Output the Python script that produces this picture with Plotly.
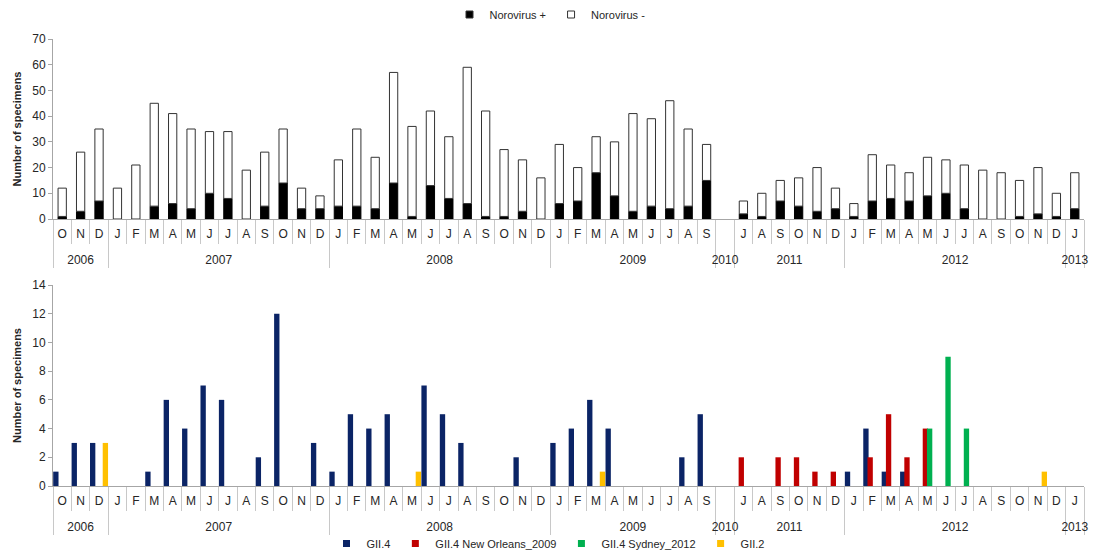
import plotly.graph_objects as go

# ---- categories ----
years = (["2006"] * 3 + ["2007"] * 12 + ["2008"] * 12 + ["2009"] * 9 + ["2010"]
         + ["2011"] * 6 + ["2012"] * 12 + ["2013"])
months = (["O", "N", "D"]
          + ["J", "F", "M", "A", "M", "J", "J", "A", "S", "O", "N", "D"]
          + ["J", "F", "M", "A", "M", "J", "J", "A", "S", "O", "N", "D"]
          + ["J", "F", "M", "A", "M", "J", "J", "A", "S"]
          + [" "]
          + ["J", "A", "S", "O", "N", "D"]
          + ["J", "F", "M", "A", "M", "J", "J", "A", "S", "O", "N", "D"]
          + ["J"])

# ---- top panel: total specimens and norovirus positives (2010 slot empty) ----
total = [12, 26, 35,
         12, 21, 45, 41, 35, 34, 34, 19, 26, 35, 12, 9,
         23, 35, 24, 57, 36, 42, 32, 59, 42, 27, 23, 16,
         29, 20, 32, 30, 41, 39, 46, 35, 29,
         None,
         7, 10, 15, 16, 20, 12,
         6, 25, 21, 18, 24, 23, 21, 19, 18, 15, 20, 10,
         18]
positive = [1, 3, 7,
            0, 0, 5, 6, 4, 10, 8, 0, 5, 14, 4, 4,
            5, 5, 4, 14, 1, 13, 8, 6, 1, 1, 3, 0,
            6, 7, 18, 9, 3, 5, 4, 5, 15,
            None,
            2, 1, 7, 5, 3, 4,
            1, 7, 8, 7, 9, 10, 4, 0, 0, 1, 2, 1,
            4]
negative = [None if t is None else t - p for t, p in zip(total, positive)]

# ---- bottom panel: genotypes ----
gii4 = [1, 3, 3,
        0, 0, 1, 6, 4, 7, 6, 0, 2, 12, 0, 3,
        1, 5, 4, 5, 0, 7, 5, 3, 0, 0, 2, 0,
        3, 4, 6, 4, 0, 0, 0, 2, 5,
        0,
        0, 0, 0, 0, 0, 0,
        1, 4, 1, 1, 0, 0, 0, 0, 0, 0, 0, 0,
        0]
gii4_no = [0, 0, 0,
           0, 0, 0, 0, 0, 0, 0, 0, 0, 0, 0, 0,
           0, 0, 0, 0, 0, 0, 0, 0, 0, 0, 0, 0,
           0, 0, 0, 0, 0, 0, 0, 0, 0,
           0,
           2, 0, 2, 2, 1, 1,
           0, 2, 5, 2, 4, 0, 0, 0, 0, 0, 0, 0,
           0]
gii4_syd = [0, 0, 0,
            0, 0, 0, 0, 0, 0, 0, 0, 0, 0, 0, 0,
            0, 0, 0, 0, 0, 0, 0, 0, 0, 0, 0, 0,
            0, 0, 0, 0, 0, 0, 0, 0, 0,
            0,
            0, 0, 0, 0, 0, 0,
            0, 0, 0, 0, 4, 9, 4, 0, 0, 0, 0, 0,
            0]
gii2 = [0, 0, 3,
        0, 0, 0, 0, 0, 0, 0, 0, 0, 0, 0, 0,
        0, 0, 0, 0, 1, 0, 0, 0, 0, 0, 0, 0,
        0, 0, 1, 0, 0, 0, 0, 0, 0,
        0,
        0, 0, 0, 0, 0, 0,
        0, 0, 0, 0, 0, 0, 0, 0, 0, 0, 1, 0,
        0]

# make every month key unique (invisible zero-width suffix) so order stays chronological;
# a small blank second line leaves room between the month row and the year row
SPACER = "<br><span style='font-size:7px'>\u00a0</span>"
month_keys = [m + "\u200b" * i + SPACER for i, m in enumerate(months)]
x_cat = [years, month_keys]

FONT = "Liberation Sans, Arial, sans-serif"
TXT = "#262626"
AX = "#A6A6A6"
W, H = 1099, 558


def fx(px):
    return px / W


def fy(py):
    return 1 - py / H


fig = go.Figure()

# top stacked bars (negative bars drawn from the positive value upwards)
fig.add_trace(go.Bar(x=x_cat, y=positive, name="Norovirus +", width=0.45, showlegend=False,
                     marker=dict(color="black", line=dict(color="black", width=1)),
                     xaxis="x", yaxis="y"))
fig.add_trace(go.Bar(x=x_cat, y=negative, base=positive, name="Norovirus -", width=0.45,
                     showlegend=False,
                     marker=dict(color="white", line=dict(color="#333333", width=1)),
                     xaxis="x", yaxis="y"))
for nm, fc in [("Norovirus +", "black"), ("Norovirus -", "white")]:
    fig.add_trace(go.Scatter(x=[None], y=[None], mode="markers", name=nm,
                             marker=dict(symbol="square", size=7, color=fc,
                                         line=dict(color="#333333", width=1)),
                             xaxis="x", yaxis="y", legend="legend"))

# bottom clustered bars
series = [("GII.4", gii4, "#0B2466"),
          ("GII.4 New Orleans_2009", gii4_no, "#C00000"),
          ("GII.4 Sydney_2012", gii4_syd, "#00B050"),
          ("GII.2", gii2, "#FFC000")]
for i, (nm, vals, col) in enumerate(series):
    fig.add_trace(go.Bar(x=x_cat, y=vals, name=nm, width=0.29, offset=-0.49 + i * 0.23,
                         marker=dict(color=col, line=dict(width=0)), showlegend=False,
                         xaxis="x2", yaxis="y2"))
    fig.add_trace(go.Scatter(x=[None], y=[None], mode="markers", name=nm,
                             marker=dict(symbol="square", size=7, color=col),
                             xaxis="x2", yaxis="y2", legend="legend2"))

xcommon = dict(type="multicategory", showline=True, linecolor=AX, linewidth=1,
               ticks="outside", tickson="boundaries", ticklen=24, tickcolor="#C8C8C8",
               showdividers=True, dividercolor="#C8C8C8", dividerwidth=1,
               tickangle=0, ticklabelstandoff=4,
               tickfont=dict(family=FONT, size=12, color=TXT), showgrid=False,
               automargin=False, domain=[fx(53), fx(1084)])
ycommon = dict(showline=True, linecolor=AX, linewidth=1, ticks="outside", ticklen=4,
               tickcolor=AX, showgrid=False, zeroline=False, automargin=False,
               tickfont=dict(family=FONT, size=12, color=TXT),
               title=dict(text="<b>Number of specimens</b>", standoff=8,
                          font=dict(family=FONT, size=11, color=TXT)))

fig.update_layout(
    width=W, height=H,
    margin=dict(l=0, r=0, t=0, b=0),
    paper_bgcolor="white", plot_bgcolor="white",
    barmode="overlay",
    font=dict(family=FONT, size=11, color=TXT),
    xaxis=dict(xcommon, anchor="y"),
    yaxis=dict(ycommon, anchor="x", range=[0, 70], dtick=10,
               domain=[fy(219), fy(39)]),
    xaxis2=dict(xcommon, anchor="y2"),
    yaxis2=dict(ycommon, anchor="x2", range=[0, 14], dtick=2,
                domain=[fy(486), fy(285)]),
    legend=dict(orientation="h", x=fx(550), xanchor="center", y=1, yanchor="top",
                font=dict(family=FONT, size=11, color=TXT), itemwidth=30,
                bgcolor="rgba(0,0,0,0)"),
    legend2=dict(orientation="h", x=fx(548), xanchor="center", y=0, yanchor="bottom",
                 font=dict(family=FONT, size=11, color=TXT), itemwidth=30,
                 bgcolor="rgba(0,0,0,0)"),
)

fig.write_html("out.html", config={"displayModeBar": False},
               post_script="document.body.style.margin='0';")
